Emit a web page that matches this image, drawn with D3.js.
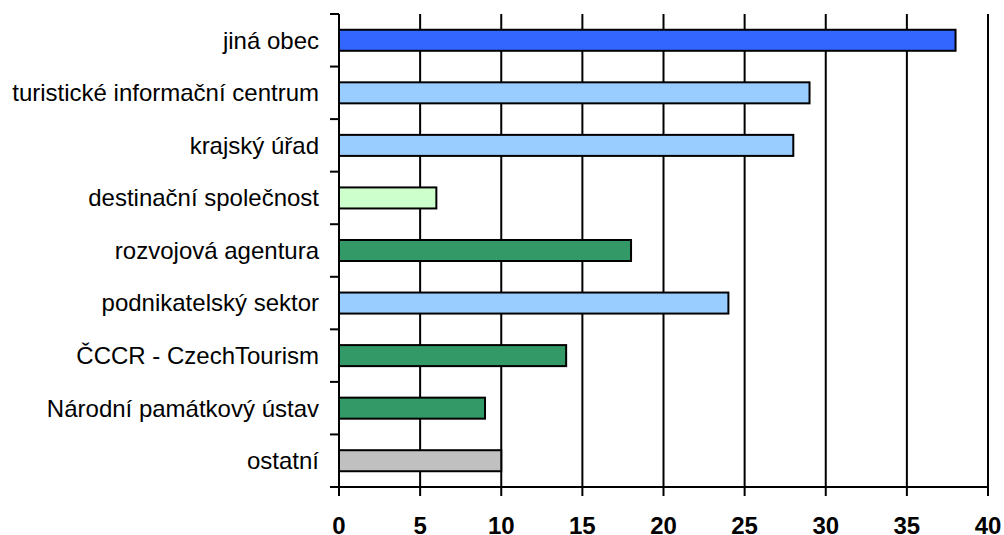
<!DOCTYPE html>
<html>
<head>
<meta charset="utf-8">
<script src="https://cdn.jsdelivr.net/npm/d3@7"></script>
<style>
	body { margin: 0; background: #fff; overflow: hidden; }
	svg { display: block; }
	svg text { font-family: "Liberation Sans", Arial, sans-serif; fill: #000; }
</style>
</head>
<body>
<div id="chart"></div>
<script>
var categories = ["jiná obec", "turistické informační centrum", "krajský úřad", "destinační společnost",
	"rozvojová agentura", "podnikatelský sektor", "ČCCR - CzechTourism", "Národní památkový ústav", "ostatní"];
var values = [38, 29, 28, 6, 18, 24, 14, 9, 10];
var colors = ["#3366FF", "#99CCFF", "#99CCFF", "#CCFFCC", "#339966", "#99CCFF", "#339966", "#339966", "#C0C0C0"];
var xTicks = [0, 5, 10, 15, 20, 25, 30, 35, 40];

var width = 1004, height = 535;
var mLeft = 339, mRight = 988, mTop = 14, mBottom = 487;

var svg = d3.select("#chart").append("svg")
	.attr("width", width)
	.attr("height", height);

var x = d3.scaleLinear().domain([0, 40]).range([mLeft, mRight]);
var y = d3.scaleBand().domain(categories).range([mTop, mBottom]).paddingInner(0.6).paddingOuter(0.3);

// vertical grid
svg.selectAll(".grid")
	.data(xTicks.slice(1))
	.enter().append("line")
	.attr("x1", function(d) { return x(d); })
	.attr("x2", function(d) { return x(d); })
	.attr("y1", mTop)
	.attr("y2", mBottom)
	.attr("stroke", "#000")
	.attr("stroke-width", 2);

// bars
svg.selectAll(".bar")
	.data(values)
	.enter().append("rect")
	.attr("x", x(0))
	.attr("y", function(d, i) { return y(categories[i]); })
	.attr("width", function(d) { return x(d) - x(0); })
	.attr("height", y.bandwidth())
	.attr("fill", function(d, i) { return colors[i]; })
	.attr("stroke", "#000")
	.attr("stroke-width", 2);

// y axis
svg.append("line")
	.attr("x1", mLeft).attr("x2", mLeft)
	.attr("y1", mTop).attr("y2", mBottom)
	.attr("stroke", "#000").attr("stroke-width", 2);

var step = (mBottom - mTop) / categories.length;
svg.selectAll(".ytick")
	.data(d3.range(categories.length + 1))
	.enter().append("line")
	.attr("x1", mLeft - 9).attr("x2", mLeft)
	.attr("y1", function(d) { return mTop + d * step; })
	.attr("y2", function(d) { return mTop + d * step; })
	.attr("stroke", "#000").attr("stroke-width", 2);

svg.selectAll(".ylab")
	.data(categories)
	.enter().append("text")
	.attr("x", 319)
	.attr("y", function(d) { return y(d) + y.bandwidth() / 2; })
	.attr("dy", "0.35em")
	.attr("text-anchor", "end")
	.style("font-size", "24px")
	.text(function(d) { return d; });

// x axis
svg.append("line")
	.attr("x1", mLeft - 9).attr("x2", mRight)
	.attr("y1", mBottom).attr("y2", mBottom)
	.attr("stroke", "#000").attr("stroke-width", 2);

svg.selectAll(".xtick")
	.data(xTicks)
	.enter().append("line")
	.attr("x1", function(d) { return x(d); })
	.attr("x2", function(d) { return x(d); })
	.attr("y1", mBottom).attr("y2", mBottom + 9)
	.attr("stroke", "#000").attr("stroke-width", 2);

svg.selectAll(".xlab")
	.data(xTicks)
	.enter().append("text")
	.attr("x", function(d) { return x(d); })
	.attr("y", 534)
	.attr("text-anchor", "middle")
	.style("font-size", "24px")
	.style("font-weight", "bold")
	.text(function(d) { return d; });
</script>
</body>
</html>
